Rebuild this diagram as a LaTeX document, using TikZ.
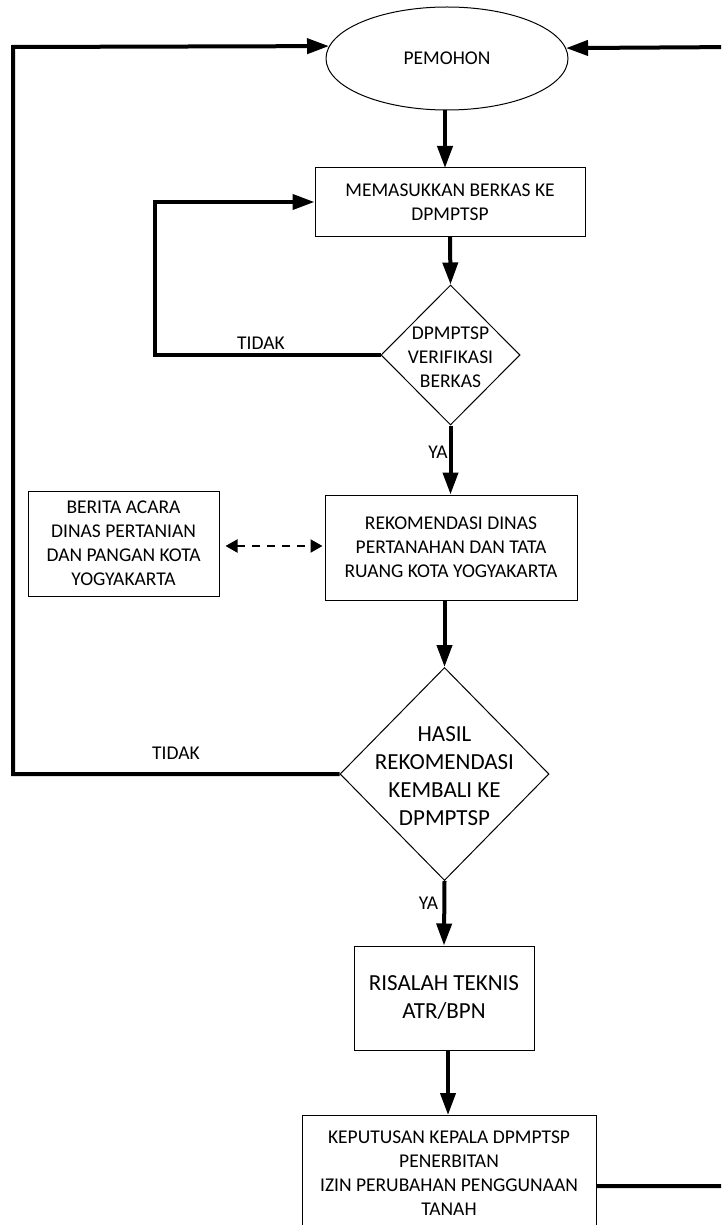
\documentclass[tikz,border=0pt]{standalone}
\usepackage{fontspec}
\setmainfont{Carlito}
\usetikzlibrary{shapes.geometric,arrows.meta}
\begin{document}
\begin{tikzpicture}[x=1pt,y=-1pt,
  small/.style={font=\fontsize{19.5}{24}\selectfont},
  big/.style={font=\fontsize{23}{28}\selectfont},
  box/.style={draw,line width=1pt,inner sep=0pt,align=center},
  dia/.style={draw,diamond,line width=1pt,inner sep=0pt,aspect=1},
  txt/.style={inner sep=0pt,align=center},
  flow/.style={line width=4pt,line join=miter,-{Triangle[length=22pt,width=15pt]}},
  plain/.style={line width=4pt,line join=miter},
  dash2/.style={line width=2pt,dash pattern=on 8pt off 7pt,{Triangle[length=12pt,width=13pt]}-{Triangle[length=12pt,width=13pt]}}
]
\useasboundingbox (0,0) rectangle (721,1225);
\clip (0,0) rectangle (721,1225);

\node[draw,ellipse,line width=1pt,inner sep=0pt,minimum width=242pt,minimum height=103pt,small] (pemohon) at (447,58.5) {PEMOHON};
\node[box,small,minimum width=270pt,minimum height=68pt] (masuk) at (450,202) {MEMASUKKAN BERKAS KE\\DPMPTSP};
\node[dia,minimum width=139pt,minimum height=140pt] (verif) at (450.5,355) {};
\node[txt,small] (veriftxt) at (450.5,357) {DPMPTSP\\VERIFIKASI\\BERKAS};
\node[box,small,minimum width=252pt,minimum height=105pt] (rekom) at (451,547.5) {REKOMENDASI DINAS\\PERTANAHAN DAN TATA\\RUANG KOTA YOGYAKARTA};
\node[box,small,minimum width=191pt,minimum height=105pt] (berita) at (123.5,543.5) {BERITA ACARA\\DINAS PERTANIAN\\DAN PANGAN KOTA\\YOGYAKARTA};
\node[dia,minimum width=209pt,minimum height=213pt] (hasil) at (444.5,774) {};
\node[txt,big] (hasiltxt) at (444.5,776) {HASIL\\REKOMENDASI\\KEMBALI KE\\DPMPTSP};
\node[box,big,minimum width=180pt,minimum height=104pt] (risalah) at (444,998) {RISALAH TEKNIS\\ATR/BPN};
\node[box,small,minimum width=294pt,minimum height=117pt] (keputusan) at (449,1173.5) {KEPUTUSAN KEPALA DPMPTSP\\PENERBITAN\\IZIN PERUBAHAN PENGGUNAAN\\TANAH};

\coordinate (rtop) at (740,47);
\coordinate (rbot) at (740,1186);
\coordinate (ltop) at (13,47);
\coordinate (lbot) at (13,774);
\coordinate (mtop) at (155,202);
\coordinate (mbot) at (155,355);

\draw[flow] (pemohon.south -| 445,0) -- (445,168);
\draw[flow] (masuk.south) -- (verif.north);
\draw[flow] (verif.south) -- (verif.south |- rekom.north);
\draw[flow] (rekom.south -| hasil.north) -- (hasil.north);
\draw[flow] (hasil.south) -- (risalah.north);
\draw[flow] (risalah.south -| 448,0) -- (448,1115);
\draw[flow] (verif.west) -- (mbot) -- (mtop) -- (masuk.west);
\draw[flow] (hasil.west) -- (lbot) -- (ltop) -- (pemohon.174.5);
\draw[flow] (keputusan.east |- rbot) -- (rbot) -- (rtop) -- (pemohon.5.5);
\draw[dash2,shorten <=6pt,shorten >=2pt] (berita.east |- 0,546) -- (rekom.west |- 0,546);

\node[txt,small] (tidak1) at (261,343) {TIDAK};
\node[txt,small] (tidak2) at (176,753) {TIDAK};
\node[txt,small] (ya1) at (438,452) {YA};
\node[txt,small] (ya2) at (428.5,903) {YA};
\end{tikzpicture}
\end{document}
